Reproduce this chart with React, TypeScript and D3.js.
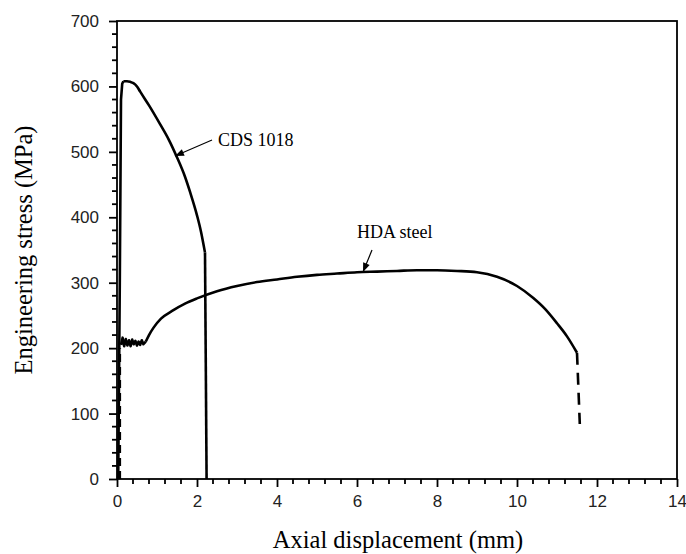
import * as d3 from "d3";
import React, { useRef, useEffect } from "react";

// CDS 1018 curve (displacement mm, stress MPa)
const cdsRiseX = [0.03, 0.07, 0.1, 0.13, 0.16];
const cdsRiseY = [0, 300, 580, 604, 608];
const cdsX = [0.16, 0.25, 0.33, 0.41, 0.5, 0.58, 0.8, 1.08, 1.3, 1.49, 1.7, 1.83, 2.0, 2.1, 2.2];
const cdsY = [608, 608, 607, 605, 600, 592, 571, 542, 518, 493, 462, 438, 403, 378, 346];
const cdsDropX = [2.2, 2.24];
const cdsDropY = [346, 0];

// HDA steel: initial dashed part
const hdaStartX = [0.07, 0.07];
const hdaStartY = [0, 200];
// HDA steel: serrated yield plateau
const hdaYieldX = [0.1, 0.14, 0.18, 0.22, 0.26, 0.3, 0.34, 0.38, 0.42, 0.46, 0.5, 0.54, 0.58, 0.62, 0.66, 0.72];
const hdaYieldY = [205, 216, 203, 214, 204, 212, 203, 213, 206, 211, 204, 210, 205, 212, 206, 210];
// HDA steel: hardening curve
const hdaX = [0.72, 0.8, 0.91, 1.1, 1.41, 1.7, 2.0, 2.5, 3.0, 3.5, 4.0, 4.5, 5.0, 5.5, 6.0, 6.5, 7.0, 7.5, 8.0, 8.5, 9.0, 9.5, 10.0, 10.4, 10.7, 11.0, 11.25, 11.5];
const hdaY = [210, 220, 231, 245, 258, 268, 276, 287, 295, 301, 305, 309, 312, 314, 316, 317, 318, 319, 319, 318, 316, 309, 295, 277, 260, 238, 218, 193];
// HDA steel: final dashed drop
const hdaEndX = [11.5, 11.57];
const hdaEndY = [193, 84];

const xTicks = [0, 2, 4, 6, 8, 10, 12, 14];
const yTicks = [0, 100, 200, 300, 400, 500, 600, 700];

const seriesLabels = ["CDS 1018", "HDA steel"];

export default function App() {
  const ref = useRef(null);
  const width = 686;
  const height = 554;
  const margin = { top: 21, right: 9, bottom: 75, left: 117 };

  useEffect(() => {
    const svg = d3.select(ref.current);
    svg.selectAll("*").remove();

    const cw = width - margin.left - margin.right;
    const ch = height - margin.top - margin.bottom;

    const x = d3.scaleLinear().domain([0, 14]).range([0, cw]);
    const y = d3.scaleLinear().domain([0, 700]).range([ch, 0]);

    const g = svg.append("g").attr("transform", `translate(${margin.left},${margin.top})`);

    // minor ticks
    const xMinor = d3.range(0, 14.001, 0.4).filter((v) => Math.abs(v / 2 - Math.round(v / 2)) > 1e-6);
    const yMinor = d3.range(0, 700, 20).filter((v) => v % 100 !== 0);

    g.selectAll(".xminor")
      .data(xMinor)
      .enter()
      .append("line")
      .attr("x1", (d) => x(d))
      .attr("x2", (d) => x(d))
      .attr("y1", ch)
      .attr("y2", ch + 5)
      .attr("stroke", "#000")
      .attr("stroke-width", 1.8);

    g.selectAll(".yminor")
      .data(yMinor)
      .enter()
      .append("line")
      .attr("x1", 0)
      .attr("x2", -5)
      .attr("y1", (d) => y(d))
      .attr("y2", (d) => y(d))
      .attr("stroke", "#000")
      .attr("stroke-width", 1.8);

    const xAxis = d3.axisBottom(x).tickValues(xTicks).tickSize(8).tickPadding(8).tickFormat(d3.format("d"));
    const yAxis = d3.axisLeft(y).tickValues(yTicks).tickSize(8).tickPadding(10).tickFormat(d3.format("d"));

    const gx = g.append("g").attr("transform", `translate(0,${ch})`).call(xAxis);
    const gy = g.append("g").call(yAxis);
    [gx, gy].forEach((a) => {
      a.select(".domain").remove();
      a.selectAll("line").attr("stroke", "#000").attr("stroke-width", 1.8);
      a.selectAll("text")
        .attr("font-family", "'Liberation Sans', Arial, sans-serif")
        .attr("font-size", 17)
        .attr("fill", "#222");
    });

    // frame
    g.append("rect")
      .attr("x", 0)
      .attr("y", 0)
      .attr("width", cw)
      .attr("height", ch)
      .attr("fill", "none")
      .attr("stroke", "#000")
      .attr("stroke-width", 1.8);

    const draw = (xs: number[], ys: number[], dash: string | null, curve: any) => {
      const pts = xs.map((v, i) => [x(v), y(ys[i])] as [number, number]);
      const p = g
        .append("path")
        .attr("d", d3.line().curve(curve)(pts))
        .attr("fill", "none")
        .attr("stroke", "#000")
        .attr("stroke-width", 2.6)
        .attr("stroke-linejoin", "round");
      if (dash) p.attr("stroke-dasharray", dash);
    };

    draw(cdsRiseX, cdsRiseY, null, d3.curveLinear);
    draw(cdsX, cdsY, null, d3.curveMonotoneX);
    draw(cdsDropX, cdsDropY, null, d3.curveLinear);
    draw(hdaStartX, hdaStartY, "8,5", d3.curveLinear);
    draw(hdaYieldX, hdaYieldY, null, d3.curveLinear);
    draw(hdaX, hdaY, null, d3.curveMonotoneX);
    draw(hdaEndX, hdaEndY, "12,8", d3.curveLinear);

    // annotations
    const ann = [
      { label: seriesLabels[0], tx: 218, ty: 146, ax1: 212, ay1: 140, ax2: 175, ay2: 156 },
      { label: seriesLabels[1], tx: 357, ty: 238, ax1: 372, ay1: 250, ax2: 363, ay2: 272 },
    ];
    ann.forEach((a) => {
      svg
        .append("text")
        .attr("x", a.tx)
        .attr("y", a.ty)
        .attr("font-family", "'Liberation Serif', 'Times New Roman', serif")
        .attr("font-size", 18)
        .text(a.label);
      svg
        .append("line")
        .attr("x1", a.ax1)
        .attr("y1", a.ay1)
        .attr("x2", a.ax2)
        .attr("y2", a.ay2)
        .attr("stroke", "#000")
        .attr("stroke-width", 1.2);
      const ang = Math.atan2(a.ay2 - a.ay1, a.ax2 - a.ax1);
      const L = 9;
      const W = 3.5;
      const bx = a.ax2 - L * Math.cos(ang);
      const by = a.ay2 - L * Math.sin(ang);
      svg
        .append("path")
        .attr(
          "d",
          `M${a.ax2},${a.ay2}L${bx + W * Math.sin(ang)},${by - W * Math.cos(ang)}L${bx - W * Math.sin(ang)},${by + W * Math.cos(ang)}Z`
        )
        .attr("fill", "#000");
    });

    // axis titles
    svg
      .append("text")
      .attr("x", 398)
      .attr("y", 548)
      .attr("text-anchor", "middle")
      .attr("font-family", "'Liberation Serif', 'Times New Roman', serif")
      .attr("font-size", 24.5)
      .text("Axial displacement (mm)");
    svg
      .append("text")
      .attr("transform", `translate(32,${margin.top + ch / 2}) rotate(-90)`)
      .attr("text-anchor", "middle")
      .attr("font-family", "'Liberation Serif', 'Times New Roman', serif")
      .attr("font-size", 24.5)
      .text("Engineering stress (MPa)");
  }, []);

  return (
    <svg
      ref={ref}
      width={width}
      height={height}
      style={{ position: "absolute", left: 0, top: 0, background: "#fff" }}
    ></svg>
  );
}
